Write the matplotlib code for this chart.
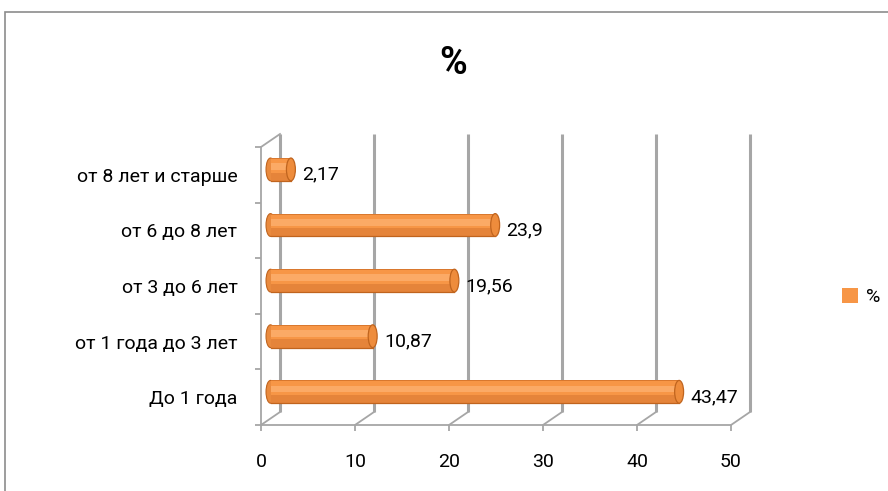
import matplotlib
matplotlib.use('Agg')
import matplotlib.pyplot as plt
import numpy as np
from matplotlib.patches import Patch, Ellipse, Rectangle

categories = ["До 1 года", "от 1 года до 3 лет", "от 3 до 6 лет",
              "от 6 до 8 лет", "от 8 лет и старше"]
values = [43.47, 10.87, 19.56, 23.9, 2.17]
value_labels = ["43,47", "10,87", "19,56", "23,9", "2,17"]
xticks = [0, 10, 20, 30, 40, 50]
series_name = "%"

plt.rcParams['font.family'] = ['Roboto', 'DejaVu Sans']
FS = 14

ORANGE = '#f79646'
DARK = '#c0641e'
GRID = '#a6a6a6'

fig = plt.figure(figsize=(8.88, 4.91), dpi=100)
ax = fig.add_axes([261 / 888, 66 / 491, 470 / 888, 278 / 491])
ax.set_xlim(0, 50)
ax.set_ylim(-0.5, len(categories) - 0.5)

# pseudo-3d depth offset (data units)
dx, dy = 19 * 50 / 470, 13 * 5 / 278
y0, y1 = -0.5, len(categories) - 0.5

# back wall gridlines + floor diagonals
for t in xticks:
    ax.plot([t + dx, t + dx], [y0 + dy, y1 + dy], color=GRID, lw=2.2,
            clip_on=False, zorder=1, solid_capstyle='butt')
    ax.plot([t, t + dx], [y0, y0 + dy], color=GRID, lw=1.3, clip_on=False, zorder=1)
ax.plot([0, dx], [y1, y1 + dy], color=GRID, lw=1.3, clip_on=False, zorder=1)

# cylinders
y = np.arange(len(categories))
bh = 0.41
cw = 0.95  # cap width in data units
bx, by = dx / 2, dy / 2 - 0.02
for yi, v in zip(y, values):
    yc = yi + by
    ax.add_patch(Ellipse((bx, yc), cw, bh, facecolor='#e98a3e', edgecolor=DARK,
                         lw=0.8, zorder=3, clip_on=False))
    ax.barh(yc, v, left=bx, height=bh, color=ORANGE, edgecolor='none', zorder=4)
    ax.barh(yc - bh * 0.32, v, left=bx, height=bh * 0.36, color='#e5843a',
            edgecolor='none', zorder=4)
    ax.barh(yc + bh * 0.12, v, left=bx, height=bh * 0.3, color='#fbaa66',
            edgecolor='none', zorder=4)
    ax.plot([bx, bx + v], [yc - bh / 2, yc - bh / 2], color=DARK, lw=0.9, zorder=5)
    ax.plot([bx, bx + v], [yc + bh / 2, yc + bh / 2], color='#d9782e', lw=0.7, zorder=5)
    ax.add_patch(Ellipse((bx + v, yc), cw, bh, facecolor='#ee8c3c', edgecolor=DARK,
                         lw=0.9, zorder=6, clip_on=False))

for yi, v, lab in zip(y, values, value_labels):
    ax.annotate(lab, (bx + v + cw / 2, yi + 0.0), xytext=(5, 0),
                textcoords='offset points', va='center', ha='left', fontsize=FS)

# front axes
for s in ['top', 'right']:
    ax.spines[s].set_visible(False)
for s in ['left', 'bottom']:
    ax.spines[s].set_color(GRID)
    ax.spines[s].set_linewidth(1.3)

ax.set_yticks(y)
ax.set_yticklabels(categories)
ax.set_yticks(np.arange(len(categories) + 1) - 0.5, minor=True)
ax.tick_params(axis='y', which='major', length=0, pad=17, labelsize=FS)
ax.tick_params(axis='y', which='minor', length=4, color=GRID, width=1.3)
ax.set_xticks(xticks)
ax.tick_params(axis='x', length=4, color=GRID, width=1.3, pad=16, labelsize=FS)

fig.text(453 / 888, 1 - 64 / 491, "%", ha='center', va='center',
         fontsize=27, fontweight='bold')

ax.legend(handles=[Patch(facecolor=ORANGE, label=series_name)], loc='center left',
          bbox_to_anchor=(824 / 888, 1 - 297 / 491), bbox_transform=fig.transFigure,
          frameon=False, handlelength=0.85, handleheight=0.85, handletextpad=0.4,
          fontsize=FS)

# chart border
fig.patches.append(Rectangle((5 / 888, -0.1), 1.1, 1 - 12 / 491 + 0.1,
                             transform=fig.transFigure, fill=False,
                             edgecolor='#8c8c8c', lw=1.2))

fig.savefig('out.png', dpi=100)
